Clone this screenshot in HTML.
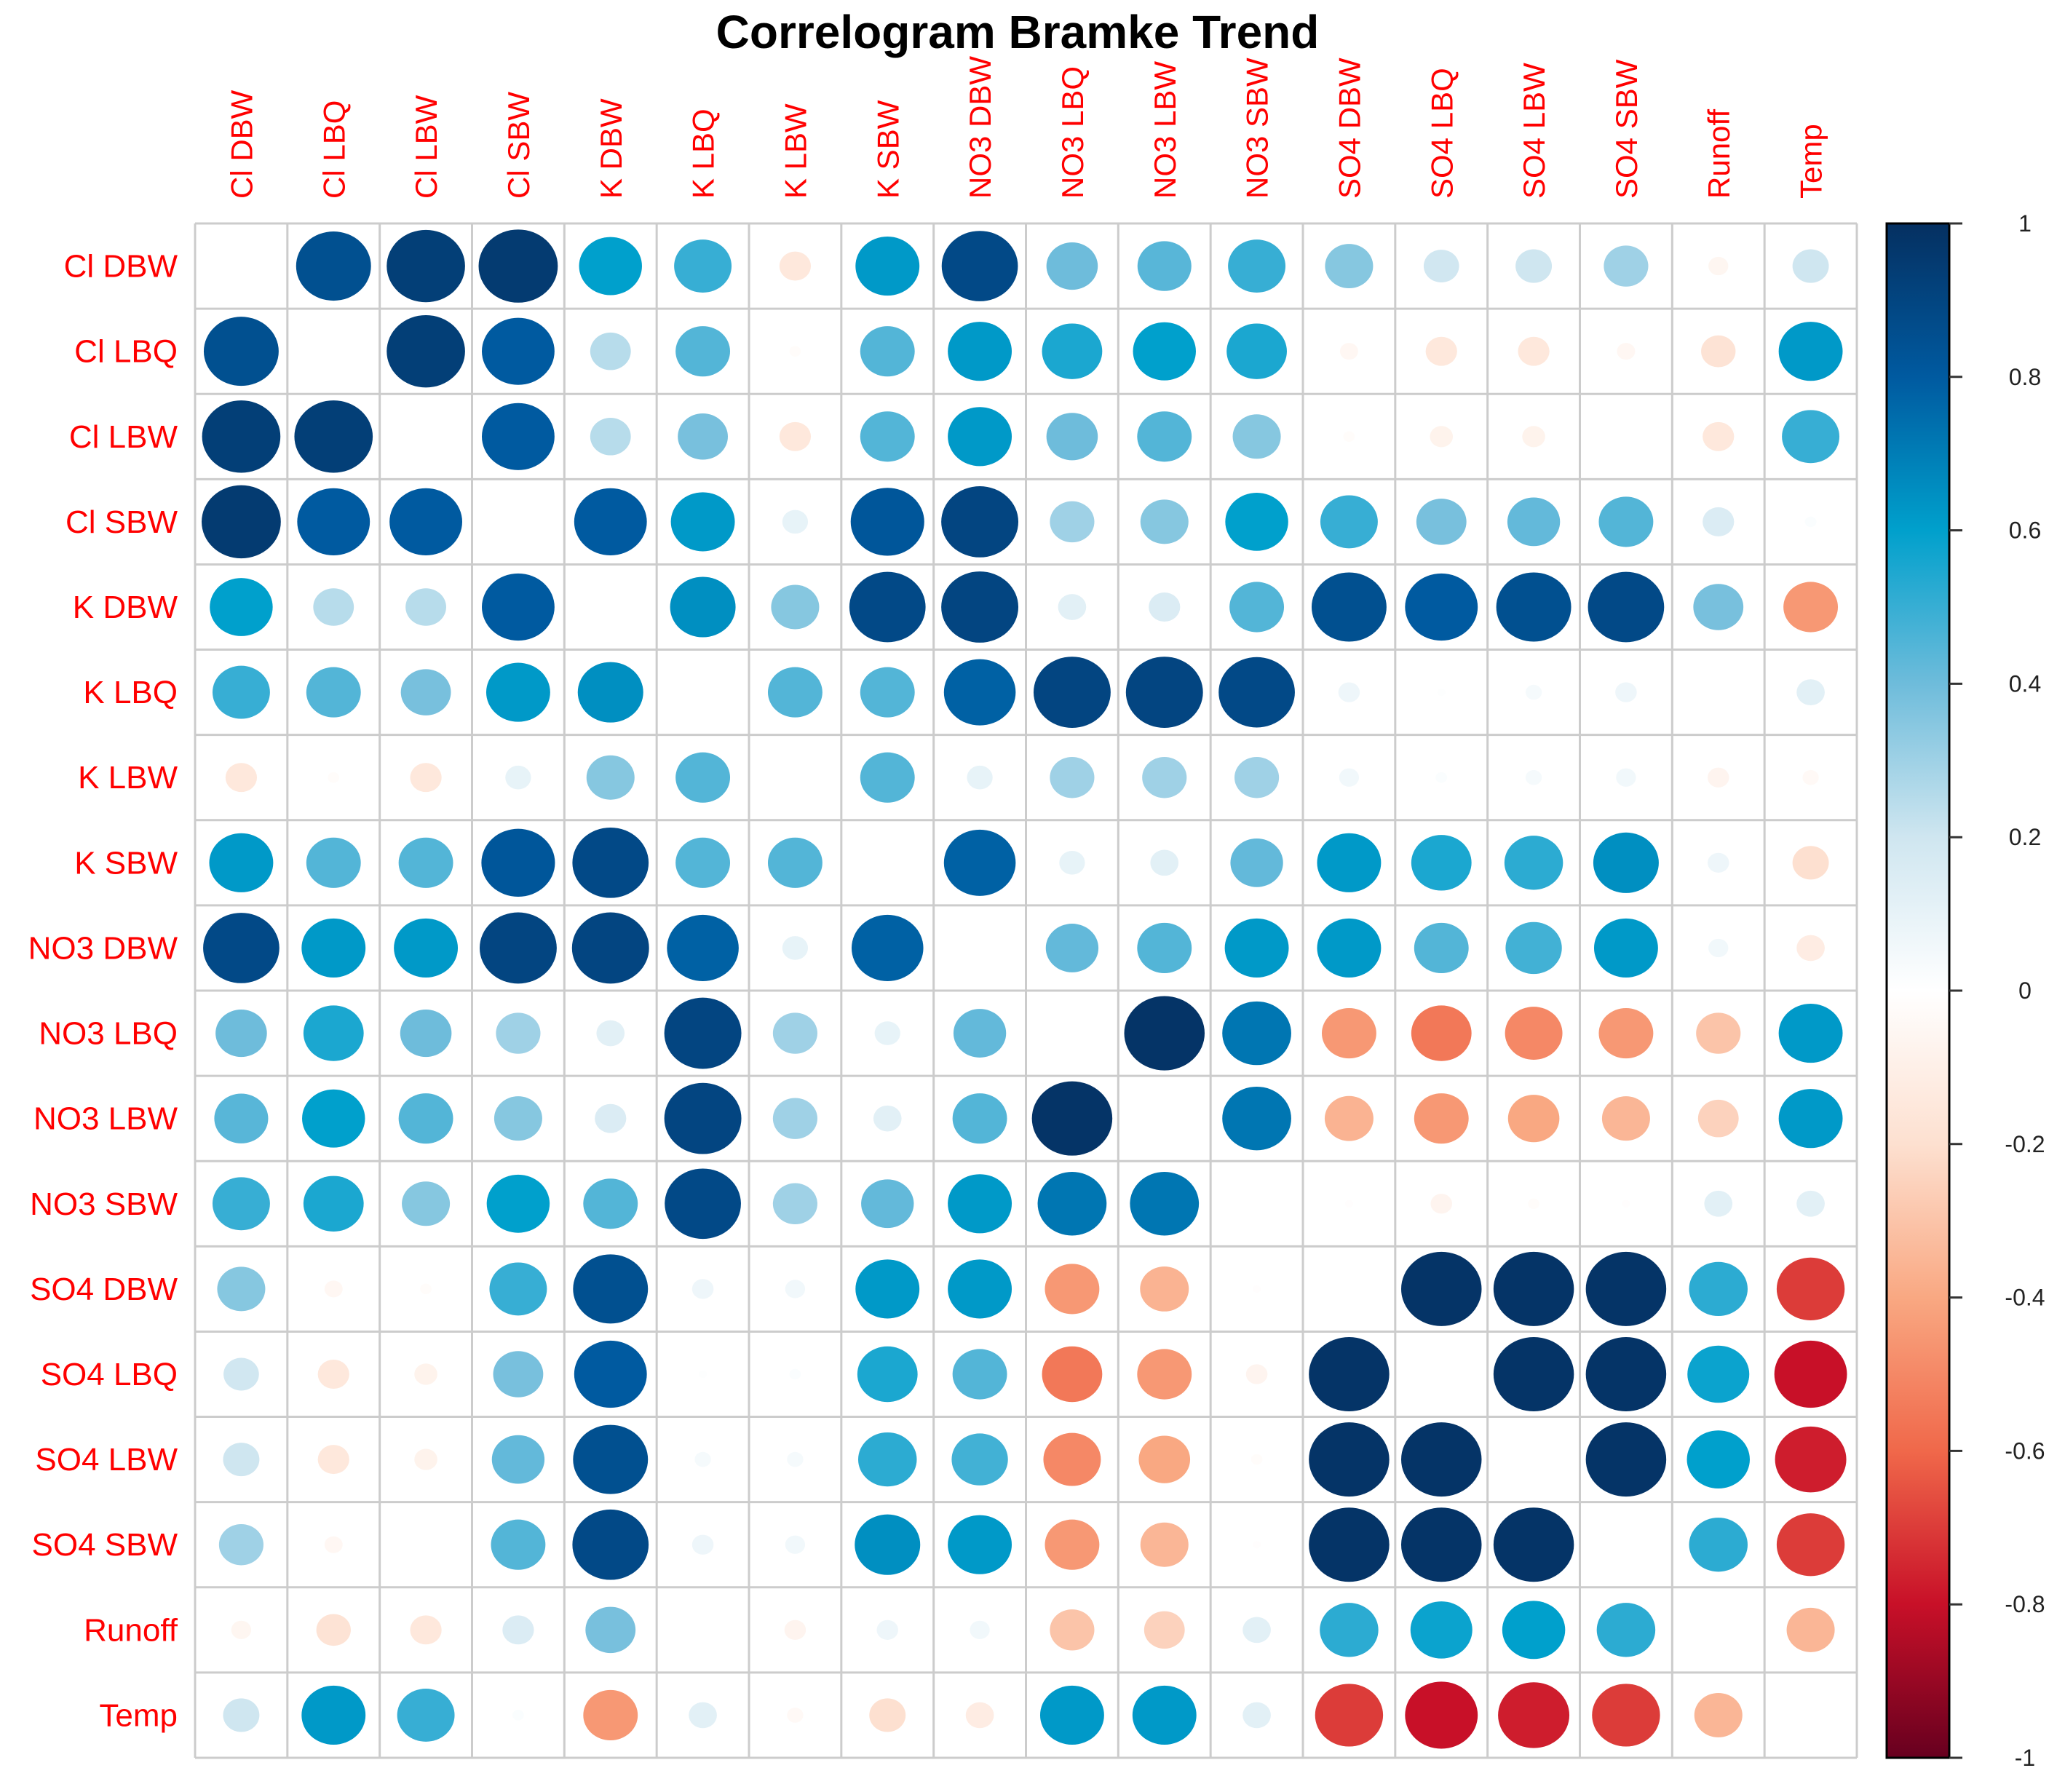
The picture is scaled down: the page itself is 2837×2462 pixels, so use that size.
<!DOCTYPE html>
<html><head><meta charset="utf-8"><style>
html,body{margin:0;padding:0;background:#fff;}
svg{display:block;}
</style></head><body>
<svg id="chart" width="2837" height="2462" viewBox="0 0 2837 2462" xmlns="http://www.w3.org/2000/svg" font-family="Liberation Sans, Arial, sans-serif">
<rect width="2837" height="2462" fill="#fff"/>
<text x="1398" y="66" text-anchor="middle" font-size="64" font-weight="bold" fill="#000">Correlogram Bramke Trend</text>
<g id="grid"></g>
<g id="cells"></g>
<g id="labels"></g>
<g id="cbar"></g>
</svg>
<script>
const variables = ["Cl DBW","Cl LBQ","Cl LBW","Cl SBW","K DBW","K LBQ","K LBW","K SBW","NO3 DBW","NO3 LBQ","NO3 LBW","NO3 SBW","SO4 DBW","SO4 LBQ","SO4 LBW","SO4 SBW","Runoff","Temp"];
// upper triangle rows: correlations of variable i with variables i+1..n-1
const upperRows = [
 [0.85,0.93,0.95,0.60,0.50,-0.15,0.62,0.88,0.40,0.44,0.50,0.35,0.19,0.20,0.30,-0.06,0.20],
 [0.93,0.80,0.25,0.45,-0.02,0.45,0.62,0.55,0.60,0.55,-0.05,-0.15,-0.15,-0.05,-0.18,0.62],
 [0.80,0.25,0.38,-0.15,0.45,0.62,0.40,0.45,0.35,-0.02,-0.08,-0.08,0.0,-0.15,0.50],
 [0.80,0.62,0.10,0.82,0.90,0.30,0.35,0.60,0.50,0.38,0.42,0.45,0.15,0.02],
 [0.65,0.35,0.88,0.90,0.12,0.15,0.45,0.85,0.80,0.85,0.88,0.38,-0.45],
 [0.45,0.45,0.78,0.90,0.90,0.88,0.07,0.01,0.04,0.07,0.0,0.12],
 [0.45,0.10,0.30,0.30,0.30,0.06,0.02,0.04,0.06,-0.07,-0.04],
 [0.78,0.10,0.12,0.42,0.62,0.55,0.52,0.65,0.07,-0.20],
 [0.42,0.45,0.62,0.62,0.45,0.48,0.62,0.06,-0.12],
 [0.98,0.72,-0.45,-0.55,-0.50,-0.45,-0.30,0.62],
 [0.72,-0.36,-0.45,-0.40,-0.35,-0.25,0.62],
 [-0.01,-0.07,-0.02,-0.01,0.12,0.12],
 [0.98,0.98,0.98,0.52,-0.70],
 [0.98,0.98,0.58,-0.80],
 [0.98,0.60,-0.77],
 [0.52,-0.70],
 [-0.35]
];
const legendTicks = [1,0.8,0.6,0.4,0.2,0,-0.2,-0.4,-0.6,-0.8,-1];
const legendTickLabels = ["1","0.8","0.6","0.4","0.2","0","-0.2","-0.4","-0.6","-0.8","-1"];

const NS="http://www.w3.org/2000/svg";
const n=variables.length;
const gx0=268,gx1=2551,gy0=307,gy1=2415;
const cw=(gx1-gx0)/n, ch=(gy1-gy0)/n;
function xPos(j){return gx0+cw*j;}
function yPos(i){return gy0+ch*i;}
const stops=[[-1,[103,0,31]],[-0.8,[200,16,40]],[-0.6,[240,104,74]],[-0.4,[249,168,130]],[-0.2,[253,224,208]],[0,[255,255,255]],[0.2,[207,230,240]],[0.4,[110,188,219]],[0.6,[0,160,204]],[0.8,[0,90,160]],[1,[5,48,97]]];
function color(v){
  for(let k=0;k<stops.length-1;k++){
    const [a,ca]=stops[k],[b,cb]=stops[k+1];
    if(v<=b){const t=(v-a)/(b-a);return "rgb("+ca.map((c,m)=>Math.round(c+(cb[m]-c)*t)).join(",")+")";}
  }
  return "rgb(5,48,97)";
}
function mk(tag,attrs,parent){const e=document.createElementNS(NS,tag);for(const k in attrs)e.setAttribute(k,attrs[k]);parent.appendChild(e);return e;}
const M=[];
for(let i=0;i<n;i++){M.push(new Array(n).fill(1));}
for(let i=0;i<n-1;i++){for(let k=0;k<upperRows[i].length;k++){const j=i+1+k;M[i][j]=upperRows[i][k];M[j][i]=upperRows[i][k];}}

const grid=document.getElementById('grid');
for(let k=0;k<=n;k++){
  const l1=mk('line',{x1:xPos(k),y1:gy0,x2:xPos(k),y2:gy1,stroke:'#cccccc','stroke-width':3},grid);
  
  
  const l2=mk('line',{x1:gx0,y1:yPos(k),x2:gx1,y2:yPos(k),stroke:'#cccccc','stroke-width':3},grid);
  
  
}
const cells=document.getElementById('cells');
for(let i=0;i<n;i++)for(let j=0;j<n;j++){
  if(i===j)continue;
  const v=M[i][j];const s=Math.sqrt(Math.abs(v))*0.88;
  const e=mk('ellipse',{cx:xPos(j)+cw/2,cy:yPos(i)+ch/2,rx:cw*s/2,ry:ch*s/2,fill:color(v)},cells);
  
  
}
const labels=document.getElementById('labels');
variables.forEach((name,i)=>{
  const t=mk('text',{x:244,y:yPos(i)+ch/2+15,'text-anchor':'end','font-size':44,fill:'#ff0000'},labels);
  t.textContent=name;
  
  
  const cx=xPos(i)+cw/2+15;
  const c=mk('text',{x:cx,y:273,'text-anchor':'start','font-size':42,fill:'#ff0000',transform:'rotate(-90 '+cx+' 273)'},labels);
  c.textContent=name;
  
  
});
const cb=document.getElementById('cbar');
const bx0=2592,bx1=2678;
function legendY(v){return gy0+(1-v)/2*(gy1-gy0);}
const defs=mk('defs',{},document.getElementById('chart'));
const grad=mk('linearGradient',{id:'cg',x1:0,y1:0,x2:0,y2:1},defs);
stops.slice().reverse().forEach(s=>{mk('stop',{offset:((1-s[0])/2*100)+'%','stop-color':color(s[0])},grad);});
const r=mk('rect',{x:bx0,y:gy0,width:bx1-bx0,height:gy1-gy0,fill:'url(#cg)',stroke:'#000','stroke-width':3},cb);


legendTicks.forEach((v,k)=>{
  const y=legendY(v);
  const tl=mk('line',{x1:bx1,y1:y,x2:bx1+18,y2:y,stroke:'#333','stroke-width':3},cb);
  
  
  const tt=mk('text',{x:2782,y:y+11,'text-anchor':'middle','font-size':32,fill:'#222'},cb);
  tt.textContent=legendTickLabels[k];
  
  
});
</script>
</body></html>
